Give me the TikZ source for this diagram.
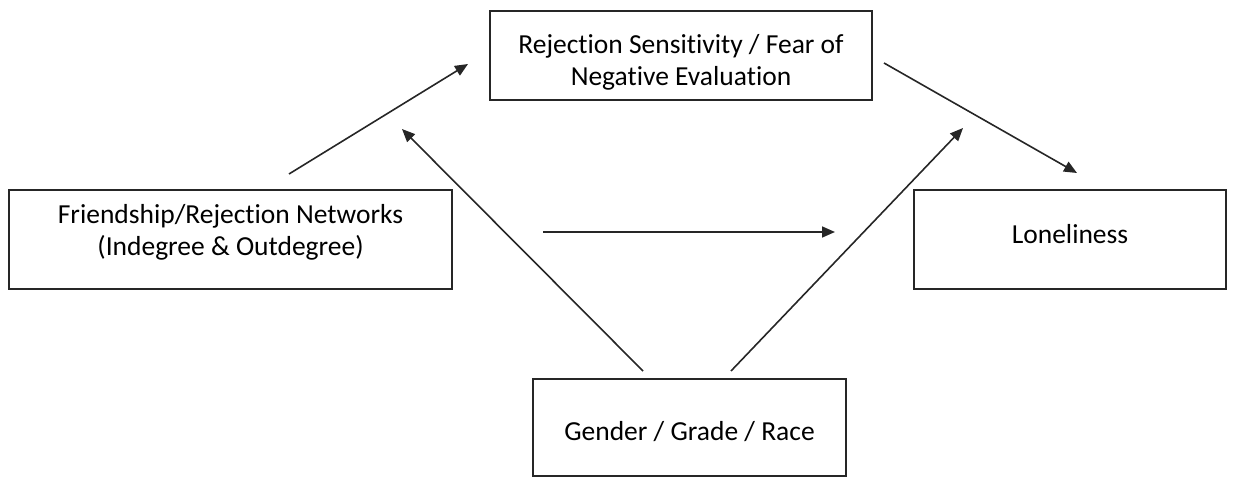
\documentclass[tikz,border=0pt]{standalone}
\usepackage{fontspec}
\setmainfont{Carlito}[Ligatures={NoCommon}]
\usetikzlibrary{arrows.meta}
\tikzset{
  box/.style={draw=black!85, line width=1.6bp, inner sep=0pt},
  lbl/.style={align=center, inner sep=0pt, font=\fontsize{27.5bp}{32bp}\selectfont, text=black},
  arr/.style={draw=black!85, line width=1.6bp, -{Triangle[length=13bp,width=11bp]}}
}
\begin{document}
\begin{tikzpicture}[x=1bp,y=-1bp]
\useasboundingbox (0,0) rectangle (1235,479);
% boxes
\node[box, minimum width=382bp, minimum height=89bp] (top) at (681,55.5) {};
\node[box, minimum width=443bp, minimum height=99bp] (left) at (230.5,239.5) {};
\node[box, minimum width=312bp, minimum height=99bp] (right) at (1070,239.5) {};
\node[box, minimum width=313bp, minimum height=97bp] (bottom) at (689.5,427.5) {};
% labels
\node[lbl] (toptxt) at (681,62) {Rejection Sensitivity / Fear of\\Negative Evaluation};
\node[lbl] (lefttxt) at (230.5,232) {Friendship/Rejection Networks\\(Indegree \& Outdegree)};
\node[lbl] (righttxt) at (1070,234) {Loneliness};
\node[lbl] (bottomtxt) at (689.5,432) {Gender / Grade / Race};
% connector ends
\coordinate (a1s) at (289,174);
\coordinate (a1e) at (468,64);
\coordinate (a2s) at (643,371);
\coordinate (a2e) at (402,129);
\coordinate (a3s) at (731,371);
\coordinate (a3e) at (963,128);
\coordinate (a4s) at (884,63);
\coordinate (a4e) at (1077,173);
\coordinate (a5s) at (543,232);
\coordinate (a5e) at (835,232);
% connectors
\draw[arr] (a1s) -- (a1e);
\draw[arr] (a2s) -- (a2e);
\draw[arr] (a3s) -- (a3e);
\draw[arr] (a4s) -- (a4e);
\draw[arr] (a5s) -- (a5e);
\end{tikzpicture}
\end{document}
